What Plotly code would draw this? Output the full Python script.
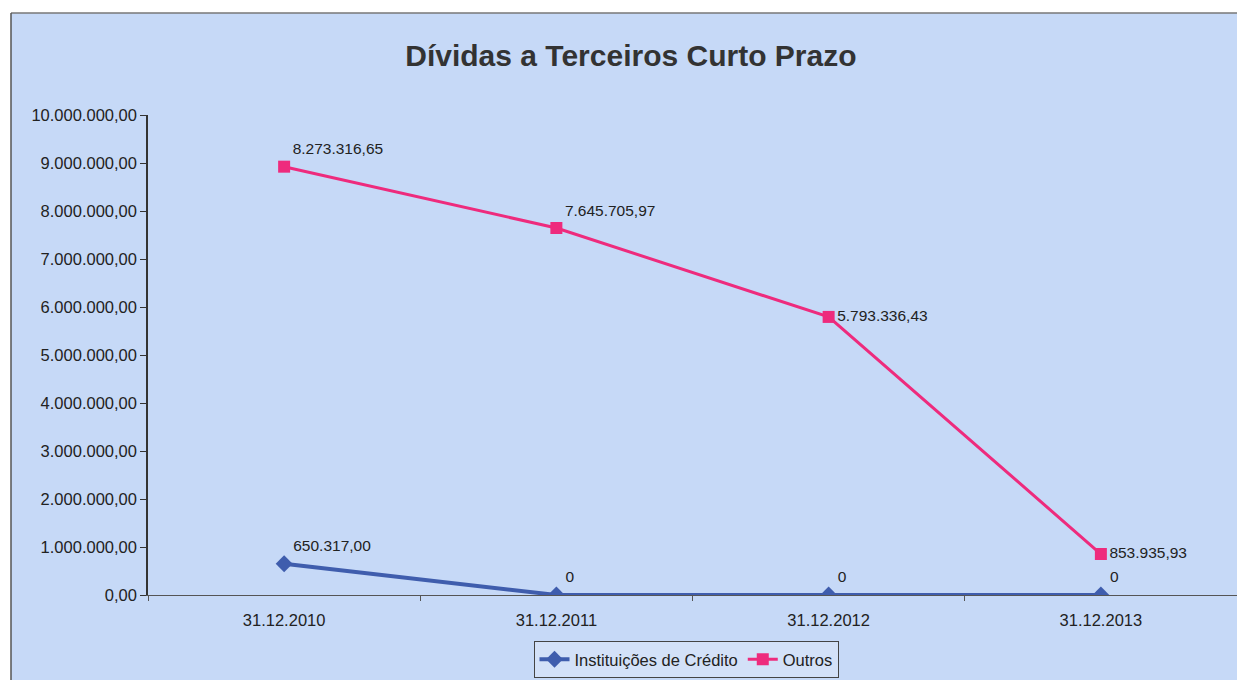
import plotly.graph_objects as go

categories = ["31.12.2010", "31.12.2011", "31.12.2012", "31.12.2013"]
instituicoes = [650317.00, 0, 0, 0]
outros = [8273316.65, 7645705.97, 5793336.43, 853935.93]
y_ticks = [0, 1e6, 2e6, 3e6, 4e6, 5e6, 6e6, 7e6, 8e6, 9e6, 10e6]
y_tick_labels = ["0,00", "1.000.000,00", "2.000.000,00", "3.000.000,00", "4.000.000,00",
                 "5.000.000,00", "6.000.000,00", "7.000.000,00", "8.000.000,00",
                 "9.000.000,00", "10.000.000,00"]
title = "Dívidas a Terceiros Curto Prazo"


def fmt_pt(v):
    if v == 0:
        return "0"
    s = f"{v:,.2f}"
    return s.replace(",", "X").replace(".", ",").replace("X", ".")


BG = "#C6D9F7"
BLUE = "#3F5DAD"
PINK = "#EE2B7D"
FONT = "Liberation Sans, Arial, sans-serif"

fig = go.Figure()
fig.add_trace(go.Scatter(
    x=categories, y=instituicoes, name="Instituições de Crédito",
    mode="lines+markers+text", stackgroup="s", fill="none",
    line=dict(color=BLUE, width=4),
    marker=dict(symbol="diamond", size=13, color=BLUE),
    text=[fmt_pt(v) for v in instituicoes],
    textposition=["top right", "top right", "top right", "top right"],
    textfont=dict(size=15.5, color="#222", family=FONT),
))
fig.add_trace(go.Scatter(
    x=categories, y=outros, name="Outros",
    mode="lines+markers+text", stackgroup="s", fill="none",
    line=dict(color=PINK, width=3),
    marker=dict(symbol="square", size=12, color=PINK),
    text=[fmt_pt(v) for v in outros],
    textposition=["top right", "top right", "middle right", "middle right"],
    textfont=dict(size=15.5, color="#222", family=FONT),
))

W, H = 1089, 480  # plot area size in px
L, T = 148, 115
fig.update_layout(
    width=1237, height=680,
    margin=dict(l=L, r=0, t=T, b=680 - T - H, pad=0),
    paper_bgcolor=BG, plot_bgcolor=BG,
    font=dict(family=FONT, color="#222"),
    title=dict(text=f"<b>{title}</b>", x=0.51, xanchor="center", y=0.918, yanchor="middle",
               font=dict(size=30, color="#333", family=FONT)),
    showlegend=True,
    legend=dict(orientation="h", x=(686 - L) / W, xanchor="center",
                y=-(678 - T - H) / H, yanchor="bottom",
                bgcolor="#D3E1F8", bordercolor="#444", borderwidth=1,
                font=dict(size=16.5, color="#222", family=FONT),
                itemwidth=30, tracegroupgap=0),
    xaxis=dict(type="category", range=[-0.5, 3.5], showline=True, linecolor="#555",
               linewidth=1, ticks="outside", ticklen=5, tickcolor="#555",
               tickson="boundaries", showgrid=False, zeroline=False,
               ticklabelstandoff=10,
               tickfont=dict(size=16.5, color="#222")),
    yaxis=dict(range=[0, 10e6], tickvals=y_ticks, ticktext=y_tick_labels,
               showline=True, linecolor="#333", linewidth=1.5, ticks="outside",
               ticklen=6, tickcolor="#333", showgrid=False, zeroline=False,
               tickfont=dict(size=16.5, color="#222")),
    shapes=[
        # white page band at top and left
        dict(type="rect", xref="paper", yref="paper", x0=-L / W, x1=1.01,
             y0=1 + (T - 13) / H, y1=1 + (T + 5) / H, fillcolor="white", line_width=0, layer="below"),
        dict(type="rect", xref="paper", yref="paper", x0=-(L + 5) / W, x1=-(L - 11) / W,
             y0=-1, y1=1.5, fillcolor="white", line_width=0, layer="below"),
        # chart border
        dict(type="line", xref="paper", yref="paper", x0=-(L - 11) / W, x1=1.01,
             y0=1 + (T - 13) / H, y1=1 + (T - 13) / H, line=dict(color="#777", width=1.5)),
        dict(type="line", xref="paper", yref="paper", x0=-(L - 11) / W, x1=-(L - 11) / W,
             y0=-1, y1=1 + (T - 13) / H, line=dict(color="#555", width=1.5)),
    ],
)

fig.write_html("out.html", config={"displayModeBar": False},
               post_script="document.body.style.margin='0';document.body.style.overflow='hidden';")
